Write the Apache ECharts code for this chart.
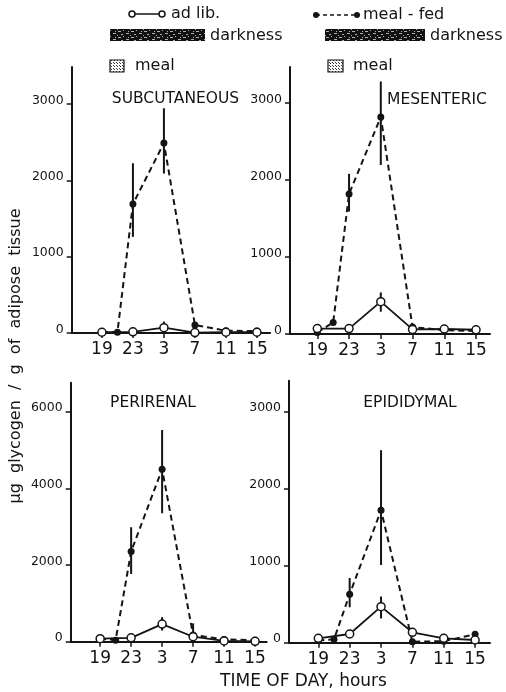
<!DOCTYPE html>
<html><head><meta charset="utf-8">
<script src="https://cdn.jsdelivr.net/npm/echarts@6/dist/echarts.min.js"></script>
<style>html,body{margin:0;padding:0;background:#fff}#c{width:506px;height:692px}</style>
</head><body><div id="c"></div>
<script>
// ---- data ----
const xTickValues = [19, 23, 27, 31, 35, 39];
const xTickLabels = ['19', '23', '3', '7', '11', '15'];
const adLibHours = [19, 23, 27, 31, 35, 39];
const mealHours = [19, 21, 23, 27, 31, 35, 39];

const subTitle = 'SUBCUTANEOUS';
const subAdLib = [10, 15, 70, 5, 10, 10];
const subMeal = [15, 10, 1690, 2490, 105, 30, 25];
const subErr = [[23, 1260, 2225], [27, 2090, 2945], [27, 70, 150]];
const subTicks = [0, 1000, 2000, 3000];

const mesTitle = 'MESENTERIC';
const mesAdLib = [70, 70, 420, 60, 65, 55];
const mesMeal = [20, 150, 1820, 2820, 90, 50, 40];
const mesErr = [[23, 1590, 2080], [27, 2195, 3280], [27, 290, 540]];
const mesTicks = [0, 1000, 2000, 3000];

const periTitle = 'PERIRENAL';
const periAdLib = [80, 100, 460, 130, 20, 10];
const periMeal = [80, 40, 2350, 4500, 175, 60, 40];
const periErr = [[23, 1765, 2985], [27, 3350, 5520], [31, 100, 480], [27, 290, 640]];
const periTicks = [0, 2000, 4000, 6000];

const epiTitle = 'EPIDIDYMAL';
const epiAdLib = [57, 113, 468, 135, 57, 35];
const epiMeal = [30, 44, 630, 1720, 13, 20, 109];
const epiErr = [[23, 460, 840], [27, 1010, 2500], [27, 315, 600]];
const epiTicks = [0, 1000, 2000, 3000];

// ---- layout ----
const layouts = [
  {left: 71.7, top: 67, width: 198.4, height: 266, xmin: 15.1, xmax: 40.7, ymax: 3486, tx: 175.5, ty: 99},
  {left: 290, top: 67, width: 200, height: 267, xmin: 15.56, xmax: 40.76, ymax: 3468, tx: 437, ty: 99.5},
  {left: 70.7, top: 382.7, width: 196, height: 259, xmin: 15.2, xmax: 40.5, ymax: 6754, tx: 153, ty: 402.5},
  {left: 289, top: 380.7, width: 201, height: 262, xmin: 15.26, xmax: 40.9, ymax: 3403, tx: 410, ty: 402.5}
];
const panels = [
  {title: subTitle, adLib: subAdLib, meal: subMeal, err: subErr, ticks: subTicks},
  {title: mesTitle, adLib: mesAdLib, meal: mesMeal, err: mesErr, ticks: mesTicks},
  {title: periTitle, adLib: periAdLib, meal: periMeal, err: periErr, ticks: periTicks},
  {title: epiTitle, adLib: epiAdLib, meal: epiMeal, err: epiErr, ticks: epiTicks}
];

const INK = '#141414';
const FONT = 'DejaVu Sans';

function makePattern(w, h, bg, fg, pts) {
  const c = document.createElement('canvas');
  c.width = w; c.height = h;
  const g = c.getContext('2d');
  g.fillStyle = bg; g.fillRect(0, 0, w, h);
  g.fillStyle = fg;
  pts.forEach(p => g.fillRect(p[0], p[1], p[2] || 1, p[3] || 1));
  return {image: c, repeat: 'repeat'};
}
const darkPattern = makePattern(13, 6, '#111111', '#b0b0b0', [[1,1,3,1],[6,0],[9,3,3,1],[4,4,2,1],[0,5],[11,1]]);
const mealPattern = makePattern(3, 3, '#ffffff', '#333333', [[0,0],[2,2]]);

function errRender(params, api) {
  const p1 = api.coord([api.value(0), api.value(1)]);
  const p2 = api.coord([api.value(0), api.value(2)]);
  return {type: 'line', shape: {x1: p1[0], y1: p1[1], x2: p2[0], y2: p2[1]},
          style: {stroke: INK, lineWidth: 2}};
}

const grid = [], xAxis = [], yAxis = [], series = [], graphic = [];
panels.forEach((p, i) => {
  const L = layouts[i];
  grid.push({left: L.left, top: L.top, width: L.width, height: L.height});
  xAxis.push({
    type: 'value', gridIndex: i, min: L.xmin, max: L.xmax,
    splitLine: {show: false},
    axisLine: {show: true, onZero: false, lineStyle: {color: INK, width: 2}},
    axisTick: {show: true, customValues: xTickValues, length: 5, lineStyle: {color: INK, width: 1.5}},
    axisLabel: {customValues: xTickValues, margin: 8, fontSize: 17, fontFamily: FONT, color: INK,
      formatter: v => xTickLabels[xTickValues.indexOf(v)]}
  });
  yAxis.push({
    type: 'value', gridIndex: i, min: 0, max: L.ymax,
    splitLine: {show: false},
    axisLine: {show: true, lineStyle: {color: INK, width: 2}},
    axisTick: {show: true, customValues: p.ticks, length: 5, lineStyle: {color: INK, width: 1.5}},
    axisLabel: {customValues: p.ticks, margin: 8, fontSize: 12.5, fontFamily: FONT, color: INK,
      verticalAlign: 'bottom', lineHeight: 7, formatter: v => String(v)}
  });
  series.push({
    type: 'line', xAxisIndex: i, yAxisIndex: i, name: 'meal-fed',
    data: mealHours.map((h, k) => [h, p.meal[k]]),
    symbol: 'circle', symbolSize: 7, itemStyle: {color: INK},
    lineStyle: {color: INK, width: 2, type: [6, 4]}, z: 3, animation: false
  });
  series.push({
    type: 'custom', xAxisIndex: i, yAxisIndex: i, renderItem: errRender,
    encode: {x: 0, y: [1, 2]}, data: p.err, z: 2, animation: false
  });
  series.push({
    type: 'line', xAxisIndex: i, yAxisIndex: i, name: 'ad lib.',
    data: adLibHours.map((h, k) => [h, p.adLib[k]]),
    symbol: 'circle', symbolSize: 8, itemStyle: {color: '#fff', borderColor: INK, borderWidth: 1.5},
    lineStyle: {color: INK, width: 1.8}, z: 4, animation: false
  });
  graphic.push({type: 'text', style: {text: p.title, x: L.tx, y: L.ty,
    fill: INK, font: '15.5px ' + FONT, textAlign: 'center', textVerticalAlign: 'middle'}});
});

// legend drawing
graphic.push(
  {type: 'line', shape: {x1: 132, y1: 14, x2: 161, y2: 14}, style: {stroke: INK, lineWidth: 1.5}},
  {type: 'circle', shape: {cx: 132, cy: 14, r: 3}, style: {fill: '#fff', stroke: INK, lineWidth: 1.5}},
  {type: 'circle', shape: {cx: 162, cy: 14, r: 3}, style: {fill: '#fff', stroke: INK, lineWidth: 1.5}},
  {type: 'text', style: {text: 'ad lib.', x: 171, y: 14, fill: INK, font: '16px ' + FONT, textVerticalAlign: 'middle'}},
  {type: 'line', shape: {x1: 316, y1: 15, x2: 356, y2: 15}, style: {stroke: INK, lineWidth: 1.5, lineDash: [4, 3]}},
  {type: 'circle', shape: {cx: 316, cy: 15, r: 3}, style: {fill: INK}},
  {type: 'circle', shape: {cx: 357, cy: 15, r: 3}, style: {fill: INK}},
  {type: 'text', style: {text: 'meal - fed', x: 363, y: 15, fill: INK, font: '16px ' + FONT, textVerticalAlign: 'middle'}},
  {type: 'rect', shape: {x: 110, y: 29, width: 95, height: 12}, style: {fill: darkPattern}},
  {type: 'text', style: {text: 'darkness', x: 210, y: 36, fill: INK, font: '16px ' + FONT, textVerticalAlign: 'middle'}},
  {type: 'rect', shape: {x: 325, y: 29, width: 100, height: 12}, style: {fill: darkPattern}},
  {type: 'text', style: {text: 'darkness', x: 430, y: 36, fill: INK, font: '16px ' + FONT, textVerticalAlign: 'middle'}},
  {type: 'rect', shape: {x: 110, y: 60, width: 14, height: 12}, style: {fill: mealPattern, stroke: INK, lineWidth: 1.2}},
  {type: 'text', style: {text: 'meal', x: 135, y: 66, fill: INK, font: '16px ' + FONT, textVerticalAlign: 'middle'}},
  {type: 'rect', shape: {x: 328, y: 60, width: 15, height: 12}, style: {fill: mealPattern, stroke: INK, lineWidth: 1.2}},
  {type: 'text', style: {text: 'meal', x: 353, y: 66, fill: INK, font: '16px ' + FONT, textVerticalAlign: 'middle'}},
  {type: 'text', rotation: Math.PI / 2, x: 16, y: 356,
    style: {text: 'μg  glycogen  /  g  of  adipose  tissue', x: 0, y: 0, fill: INK, font: '16px ' + FONT,
      textAlign: 'center', textVerticalAlign: 'middle'}},
  {type: 'text', style: {text: 'TIME OF DAY, hours', x: 303.5, y: 682, fill: INK, font: '17px ' + FONT,
      textAlign: 'center', textVerticalAlign: 'middle'}}
);

const chart = echarts.init(document.getElementById('c'), null, {renderer: 'canvas'});
chart.setOption({
  backgroundColor: '#fff',
  animation: false,
  grid, xAxis, yAxis, series, graphic
});
</script></body></html>
